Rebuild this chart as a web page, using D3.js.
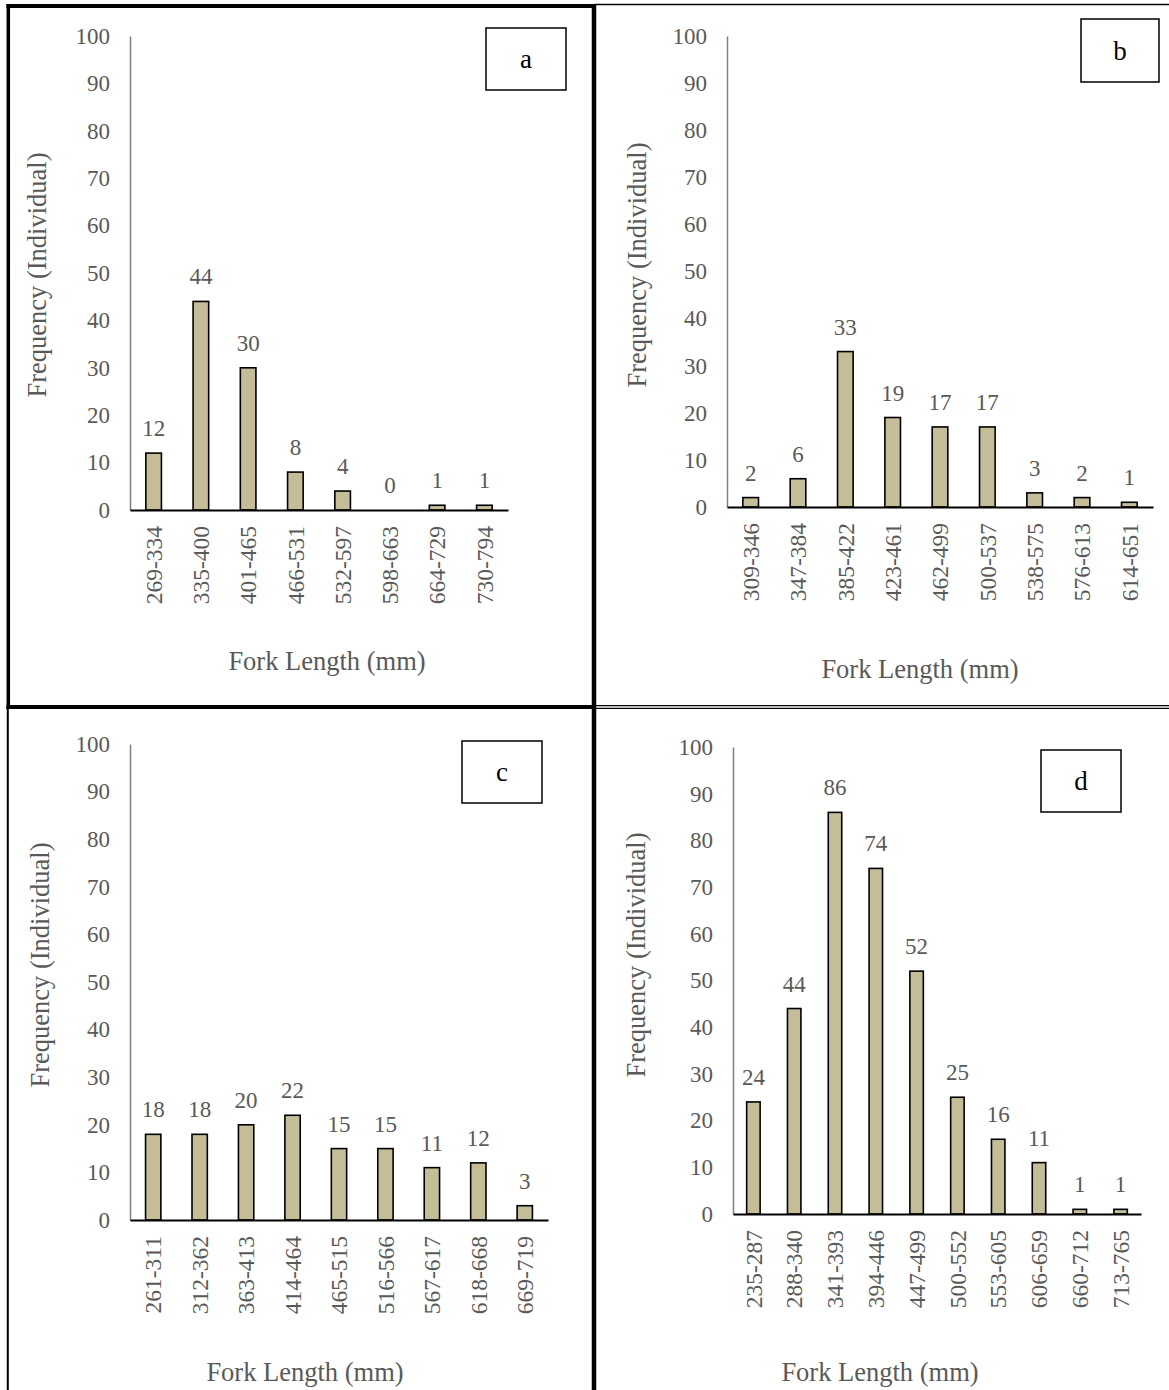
<!DOCTYPE html>
<html>
<head>
<meta charset="utf-8">
<script src="https://cdn.jsdelivr.net/npm/d3@7"></script>
<style>
  html, body { margin: 0; padding: 0; background: #fff; }
  svg { display: block; }
  text { font-family: "Liberation Serif", "Times New Roman", serif; }
</style>
</head>
<body>
<svg id="chart" width="1169" height="1390"></svg>
<script>
// ---- data ----
const yTicks = [0, 10, 20, 30, 40, 50, 60, 70, 80, 90, 100];

const catsA = ["269-334","335-400","401-465","466-531","532-597","598-663","664-729","730-794"];
const valsA = [12, 44, 30, 8, 4, 0, 1, 1];

const catsB = ["309-346","347-384","385-422","423-461","462-499","500-537","538-575","576-613","614-651"];
const valsB = [2, 6, 33, 19, 17, 17, 3, 2, 1];

const catsC = ["261-311","312-362","363-413","414-464","465-515","516-566","567-617","618-668","669-719"];
const valsC = [18, 18, 20, 22, 15, 15, 11, 12, 3];

const catsD = ["235-287","288-340","341-393","394-446","447-499","500-552","553-605","606-659","660-712","713-765"];
const valsD = [24, 44, 86, 74, 52, 25, 16, 11, 1, 1];

const panelLetters = ["a", "b", "c", "d"];
const xTitle = "Fork Length (mm)";
const yTitle = "Frequency (Individual)";

// ---- layout ----
const layouts = [
  { x0: 130, x1: 508,  yTop: 36,  yBot: 510,  box: [486, 28, 80, 62],   yt: [37, 275],  xt: [327, 661] },
  { x0: 727, x1: 1153, yTop: 36,  yBot: 507,  box: [1081, 19, 78, 63],  yt: [637, 265],  xt: [920, 669] },
  { x0: 130, x1: 548,  yTop: 744, yBot: 1220, box: [462, 741, 80, 62],  yt: [40, 965],  xt: [305, 1372] },
  { x0: 733, x1: 1141, yTop: 747, yBot: 1214, box: [1041, 750, 80, 62], yt: [636, 955],  xt: [880, 1372] }
];
const datasets = [[catsA, valsA], [catsB, valsB], [catsC, valsC], [catsD, valsD]];

const svg = d3.select("#chart");
const textGray = "#595959";
const barFill = "#C4BD97";

// ---- frame lines ----
const frame = svg.append("g");
function ln(x1, y1, x2, y2, w) {
  frame.append("line").attr("x1", x1).attr("y1", y1).attr("x2", x2).attr("y2", y2)
    .attr("stroke", "#000").attr("stroke-width", w);
}
ln(8.3, 4, 8.3, 709, 3.5);
ln(7.8, 707, 7.8, 1390, 2);
ln(6.5, 6, 596, 6, 4);
ln(594, 4.4, 1169, 4.4, 1.5);
ln(594, 4, 594, 1390, 4.5);
ln(6.5, 707, 596, 707, 4);
ln(596, 705.6, 1169, 705.6, 1.4);
ln(596, 708.4, 1169, 708.4, 1.4);

// ---- panels ----
layouts.forEach((L, i) => {
  const [cats, vals] = datasets[i];
  const g = svg.append("g");

  const x = d3.scaleBand().domain(cats).range([L.x0, L.x1]).paddingInner(0).paddingOuter(0);
  const y = d3.scaleLinear().domain([0, 100]).range([L.yBot, L.yTop]);
  const bw = x.bandwidth() * 0.33;

  // y axis
  const yAxis = d3.axisLeft(y).tickValues(yTicks).tickSize(0).tickPadding(20);
  const ya = g.append("g").attr("transform", `translate(${L.x0},0)`).call(yAxis);
  ya.select(".domain").attr("stroke", "#7f7f7f").attr("stroke-width", 1.5);
  ya.selectAll("text").attr("fill", textGray).attr("font-size", 23)
    .attr("font-family", "'Liberation Serif', serif");

  // bars
  g.selectAll("rect.bar").data(cats).enter().append("rect")
    .attr("class", "bar")
    .attr("x", d => x(d) + x.bandwidth() / 2 - bw / 2)
    .attr("y", (d, j) => y(vals[j]))
    .attr("width", bw)
    .attr("height", (d, j) => y(0) - y(vals[j]))
    .attr("fill", barFill)
    .attr("stroke", "#000")
    .attr("stroke-width", 1.6);

  // x axis
  const xAxis = d3.axisBottom(x).tickSize(0).tickPadding(0);
  const xa = g.append("g").attr("transform", `translate(0,${L.yBot})`).call(xAxis);
  xa.select(".domain").attr("stroke", "#000").attr("stroke-width", 2);
  xa.selectAll("text")
    .attr("fill", textGray).attr("font-size", 23.5)
    .attr("font-family", "'Liberation Serif', serif")
    .attr("text-anchor", "end")
    .attr("transform", "rotate(-90)")
    .attr("x", -16).attr("y", 0).attr("dy", "0.35em");

  // value labels
  g.selectAll("text.val").data(cats).enter().append("text")
    .attr("class", "val")
    .attr("x", d => x(d) + x.bandwidth() / 2)
    .attr("y", (d, j) => y(vals[j]) - 17)
    .attr("text-anchor", "middle")
    .attr("fill", textGray)
    .attr("font-size", 23)
    .text((d, j) => vals[j]);

  // axis titles
  g.append("text")
    .attr("x", L.xt[0]).attr("y", L.xt[1])
    .attr("dy", "0.35em")
    .attr("text-anchor", "middle")
    .attr("fill", textGray).attr("font-size", 26.5)
    .text(xTitle);
  g.append("text")
    .attr("transform", `translate(${L.yt[0]},${L.yt[1]}) rotate(-90)`)
    .attr("dy", "0.35em")
    .attr("text-anchor", "middle")
    .attr("fill", textGray).attr("font-size", 26.5)
    .text(yTitle);

  // letter box
  const [bx, by, bwid, bh] = L.box;
  g.append("rect").attr("x", bx).attr("y", by).attr("width", bwid).attr("height", bh)
    .attr("fill", "#fff").attr("stroke", "#000").attr("stroke-width", 1.5);
  g.append("text")
    .attr("x", bx + bwid / 2).attr("y", by + bh / 2)
    .attr("dy", "0.35em")
    .attr("text-anchor", "middle")
    .attr("fill", "#000").attr("font-size", 27)
    .text(panelLetters[i]);
});
</script>
</body>
</html>
